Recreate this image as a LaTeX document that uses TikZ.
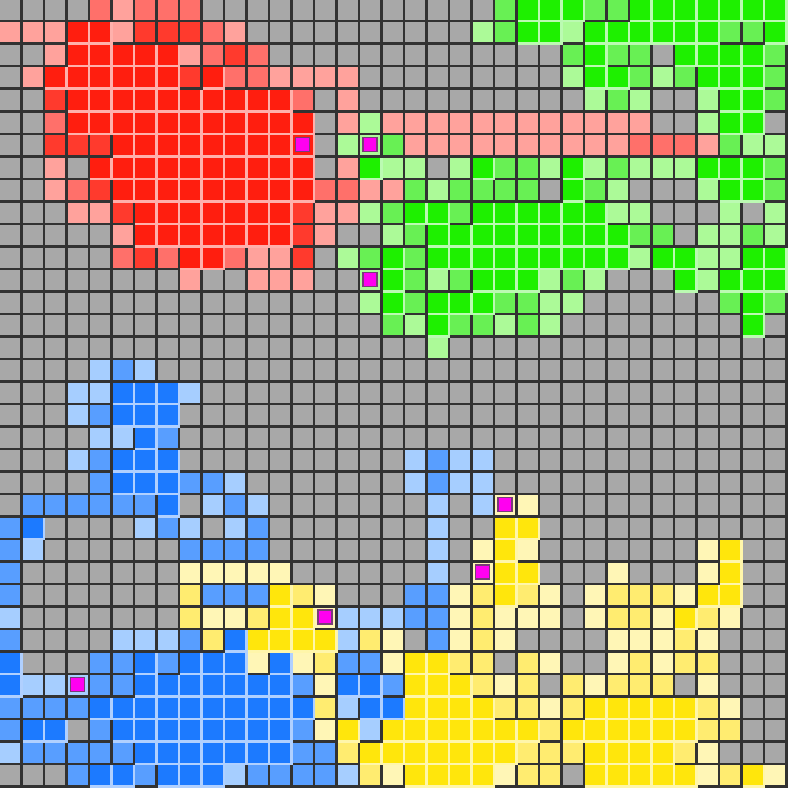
\documentclass[tikz,border=0pt]{standalone}
\usepackage{xcolor}
% cell fills: g grey, R/S/r/p reds, G/h/l greens, B/b/c blues, Y/y/z yellows
\definecolor{fg}{RGB}{168,168,168}
\definecolor{fR}{RGB}{255,30,15}
\definecolor{fS}{RGB}{255,58,45}
\definecolor{fr}{RGB}{255,112,106}
\definecolor{fp}{RGB}{255,162,156}
\definecolor{fG}{RGB}{30,240,0}
\definecolor{fh}{RGB}{104,240,84}
\definecolor{fl}{RGB}{172,250,152}
\definecolor{fB}{RGB}{28,122,255}
\definecolor{fb}{RGB}{88,158,255}
\definecolor{fc}{RGB}{166,206,255}
\definecolor{fY}{RGB}{255,230,12}
\definecolor{fy}{RGB}{255,236,112}
\definecolor{fz}{RGB}{255,246,182}
\definecolor{seedpink}{RGB}{255,0,240}
\definecolor{seedrim}{RGB}{120,60,120}
\definecolor{edgedark}{RGB}{50,50,50}
% seed cells sit on their cluster colour
\colorlet{fM}{fR}
\colorlet{fN}{fl}
\colorlet{fO}{fc}
\colorlet{fQ}{fz}
% edges: light inside full clusters, dark elsewhere
\colorlet{eR}{white!65!fR}
\colorlet{eG}{white!70!fG}
\colorlet{eB}{white!65!fB}
\colorlet{eY}{white!65!fY}
\colorlet{eM}{eR}
\colorlet{eg}{edgedark}\colorlet{eS}{edgedark}\colorlet{er}{edgedark}
\colorlet{ep}{edgedark}\colorlet{eh}{edgedark}\colorlet{el}{edgedark}
\colorlet{eb}{edgedark}\colorlet{ec}{edgedark}\colorlet{ey}{edgedark}
\colorlet{ez}{edgedark}\colorlet{eN}{edgedark}\colorlet{eO}{edgedark}
\colorlet{eQ}{edgedark}
\def\seedM{}\def\seedN{}\def\seedO{}\def\seedQ{}

\newcount\colno
\newcommand\cellat[1]{%
  \fill[fill=e#1] (\the\colno*22.5,\rowno*22.5) rectangle ++(22.5,22.5);
  \fill[fill=f#1] (\the\colno*22.5,\rowno*22.5) rectangle ++(20,20);
  \ifcsname seed#1\endcsname
    \filldraw[fill=seedpink,draw=seedrim,line width=1] (\the\colno*22.5+3,\rowno*22.5+2.5) rectangle ++(14,14);
  \fi}
\def\drawrow#1{\colno=0 \dorow#1\relax}
\def\dorow#1{\ifx#1\relax\else\cellat{#1}\advance\colno by 1 \expandafter\dorow\fi}

\begin{document}
\begin{tikzpicture}[x=0.025cm,y=-0.025cm]
  \fill[white] (0,0) rectangle (793,795);
  \useasboundingbox (0,0) rectangle (793,795);
  % one string per row, one letter per cell
  \foreach \cells [count=\rowno from 0] in {
    ggggrprrrggg gggggggggghG GGhhGGGGGGG,
    pppRRpSSSrpg ggggggggglhG GlGGGGGGhhG,
    ggpRRRRRprSr gggggggggggg ghGhhgGGGGh,
    gpRRRRRRSRrr ppppgggggggg glGGhlhGGGh,
    ggSRRRRRRRRR Rrgpgggggggg gglhlgglGGh,
    ggrRRRRRRRRR RRgplppppppp pppppgglGGg,
    ggSSSRRRRRRR RMglNhpppppp pppprrrphll,
    ggpgRRRRRRRR RRgpGllglGhh lGlhlllGGGh,
    ggprSRRRRRRR RRrrpphlhhhh gGhlggglGGh,
    gggppSRRRRRR RSpplhGGhGGG GGGllggglgl,
    gggggpRRRRRR RSpgglhGGGGG GGGGhhgllhl,
    gggggrSrRRrp pSglhGhGGGGG GGGGlGGllGG,
    ggggggggpggp ppggNGhlhGGG lhlgggGlGGG,
    gggggggggggg gggglGhGGGhh llgggggghGh,
    gggggggggggg ggggghlGhhlh lggggggggGg,
    gggggggggggg ggggggglgggg ggggggggggg,
    ggggcbcggggg gggggggggggg ggggggggggg,
    gggccBBBcggg gggggggggggg ggggggggggg,
    gggcbBBBgggg gggggggggggg ggggggggggg,
    ggggccBbgggg gggggggggggg ggggggggggg,
    gggcbBBBgggg ggggggcbccgg ggggggggggg,
    ggggbBBBbbcg ggggggcbccgg ggggggggggg,
    gbbbbbbBgcbc gggggggcgcQz ggggggggggg,
    bBggggcbcgcb gggggggcggYY ggggggggggg,
    bcggggggbbbb gggggggcgzYz gggggggzYgg,
    bgggggggzzzz zggggggcgQYY gggzgggzYgg,
    bgggggggybbb YyzgggbbzyYy zgzyyyzYYgg,
    cgggggggyzzy YYQcccbbzyzz zgzyyzYyzgg,
    bggggcccbyBY YYYcyzgbzyzg gggzzzyzggg,
    BgggbbBbBBBz BzybbzYYyygy zggzyzyyggg,
    BccObbBBBBBB BbzBBbYYYyzy gyzyyygzggg,
    bbbbBBBBBBBB BBycBBYYYYyy zyYYYYYyzgg,
    bBBgbBBBBBBB BbzYcYYYYYYY yYYYYYYyygg,
    cbbbbbBBBBBB BbbyYYYYYYYy yyYYYYyzggg,
    gggbBBbBBBcb bbbcyzYYYYzy ygYYYYYzyYz
  }{\expandafter\drawrow\expandafter{\cells}}
\end{tikzpicture}
\end{document}
